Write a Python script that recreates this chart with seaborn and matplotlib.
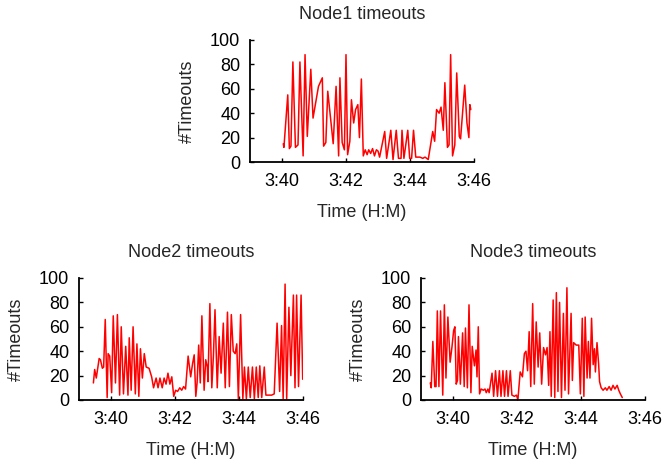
import matplotlib
matplotlib.use("Agg")
import matplotlib.pyplot as plt
import seaborn as sns
import pandas as pd
from matplotlib.ticker import FuncFormatter, FixedLocator

# ---------------- data (time in minutes after 3:00, #timeouts) ----------------
node1_t = [40.04, 40.06, 40.18, 40.23, 40.28, 40.34, 40.42, 40.50, 40.56, 40.66,
           40.72, 40.79, 40.90, 40.97, 41.14, 41.26, 41.30, 41.37, 41.43, 41.60,
           41.69, 41.77, 41.81, 41.88, 41.95, 42.00, 42.05, 42.12, 42.17, 42.24,
           42.30, 42.37, 42.42, 42.48, 42.54, 42.60, 42.66, 42.71, 42.77, 42.83,
           42.89, 42.95, 43.00, 43.05, 43.21, 43.27, 43.40, 43.47, 43.57, 43.64,
           43.72, 43.75, 43.81, 43.93, 43.99, 44.05, 44.11, 44.18, 44.31, 44.40,
           44.47, 44.57, 44.71, 44.77, 44.83, 44.91, 44.97, 45.04, 45.09, 45.17,
           45.22, 45.27, 45.33, 45.40, 45.46, 45.54, 45.58, 45.71, 45.78, 45.84,
           45.87, 45.90]
node1_v = [15, 12, 55, 11, 13, 82, 12, 14, 82, 5,
           88, 21, 76, 36, 62, 69, 13, 16, 58, 15,
           62, 5, 69, 16, 10, 88, 6, 17, 51, 32,
           43, 47, 20, 68, 5, 10, 6, 10, 7, 11,
           5, 10, 9, 4, 25, 3, 26, 2, 26, 3,
           3, 26, 3, 26, 3, 3, 26, 4, 4, 3,
           4, 2, 25, 17, 43, 40, 45, 26, 65, 12,
           14, 88, 5, 14, 73, 21, 19, 63, 32, 20,
           47, 43]

node2_t = [39.45, 39.49, 39.54, 39.63, 39.67, 39.73, 39.77, 39.82, 39.88, 39.91,
           39.96, 40.02, 40.07, 40.14, 40.20, 40.27, 40.32, 40.39, 40.46, 40.53,
           40.57, 40.63, 40.69, 40.76, 40.81, 40.87, 40.92, 40.98, 41.04, 41.10,
           41.19, 41.27, 41.33, 41.41, 41.47, 41.53, 41.60, 41.66, 41.72, 41.78,
           41.84, 41.90, 41.96, 42.02, 42.08, 42.15, 42.21, 42.27, 42.33, 42.41,
           42.49, 42.55, 42.60, 42.65, 42.69, 42.74, 42.79, 42.84, 42.91, 42.96,
           43.01, 43.03, 43.09, 43.15, 43.20, 43.25, 43.32, 43.38, 43.44, 43.51,
           43.57, 43.64, 43.70, 43.76, 43.82, 43.88, 43.93, 43.98, 44.05, 44.12,
           44.17, 44.23, 44.29, 44.35, 44.42, 44.48, 44.54, 44.60, 44.65, 44.71,
           44.79, 44.84, 44.94, 45.02, 45.10, 45.19, 45.27, 45.33, 45.38, 45.44,
           45.49, 45.56, 45.62, 45.70, 45.75, 45.80, 45.86, 45.94, 45.99]
node2_v = [14, 25, 18, 34, 33, 26, 27, 66, 2, 38,
           36, 6, 69, 14, 70, 4, 60, 5, 44, 4,
           51, 8, 60, 5, 46, 3, 42, 18, 38, 27,
           26, 19, 10, 18, 10, 18, 10, 18, 13, 22,
           13, 19, 3, 8, 7, 10, 8, 11, 9, 36,
           19, 30, 37, 3, 14, 45, 14, 69, 8, 33,
           27, 15, 79, 10, 36, 74, 10, 52, 22, 63,
           10, 72, 11, 70, 40, 38, 46, 1, 70, 1,
           27, 1, 27, 2, 27, 1, 27, 2, 28, 2,
           27, 4, 4, 4, 5, 63, 7, 61, 1, 95,
           1, 76, 20, 86, 10, 86, 11, 86, 17]

node3_t = [39.29, 39.32, 39.37, 39.43, 39.47, 39.51, 39.56, 39.61, 39.68, 39.73,
           39.78, 39.84, 39.91, 39.97, 40.02, 40.06, 40.10, 40.14, 40.17, 40.23,
           40.30, 40.35, 40.39, 40.45, 40.50, 40.56, 40.60, 40.67, 40.72, 40.75,
           40.79, 40.83, 40.88, 40.95, 41.00, 41.04, 41.09, 41.13, 41.22, 41.27,
           41.33, 41.39, 41.45, 41.50, 41.56, 41.61, 41.67, 41.72, 41.79, 41.84,
           41.92, 41.98, 42.03, 42.10, 42.17, 42.23, 42.28, 42.33, 42.38, 42.43,
           42.49, 42.54, 42.60, 42.66, 42.71, 42.77, 42.83, 42.89, 42.94, 42.99,
           43.03, 43.07, 43.13, 43.18, 43.23, 43.28, 43.33, 43.39, 43.45, 43.50,
           43.56, 43.61, 43.69, 43.73, 43.77, 43.85, 43.93, 43.98, 44.04, 44.09,
           44.13, 44.19, 44.23, 44.28, 44.33, 44.38, 44.42, 44.45, 44.50, 44.55,
           44.58, 44.63, 44.69, 44.76, 44.81, 44.88, 44.94, 45.00, 45.06, 45.13,
           45.18, 45.23, 45.29]
node3_v = [14, 10, 48, 11, 11, 73, 11, 73, 4, 78,
           18, 68, 31, 44, 57, 60, 13, 16, 52, 13,
           55, 11, 59, 10, 78, 6, 44, 28, 41, 19,
           60, 5, 9, 8, 9, 6, 9, 6, 22, 3,
           24, 3, 24, 3, 24, 3, 24, 3, 24, 4,
           3, 4, 1, 23, 19, 38, 40, 24, 56, 11,
           79, 13, 64, 27, 55, 13, 43, 37, 43, 12,
           56, 3, 82, 2, 88, 7, 80, 2, 71, 8,
           92, 5, 71, 16, 47, 45, 45, 5, 67, 3,
           68, 18, 48, 18, 67, 29, 42, 23, 47, 30,
           15, 10, 8, 10, 8, 11, 8, 12, 9, 12,
           8, 5, 2]

titles = ["Node1 timeouts", "Node2 timeouts", "Node3 timeouts"]
x_ticks = [40, 42, 44, 46]
y_ticks = [0, 20, 40, 60, 80, 100]
x_label = "Time (H:M)"
y_label = "#Timeouts"

# ---------------- style ----------------
sns.set_style("ticks")
plt.rcParams['font.family'] = ['Liberation Sans', 'DejaVu Sans']

W, H = 663, 459
fig = plt.figure(figsize=(W / 100, H / 100), dpi=100)

def rect(left, top, right, bottom):
    return [left / W, 1 - bottom / H, (right - left) / W, (bottom - top) / H]

axes = [
    fig.add_axes(rect(250, 40, 474, 162)),
    fig.add_axes(rect(79, 278, 303, 400)),
    fig.add_axes(rect(421, 278, 645, 400)),
]
series = [(node1_t, node1_v), (node2_t, node2_v), (node3_t, node3_v)]

fmt = FuncFormatter(lambda m, pos: "3:%02d" % int(round(m)))

for ax, (t, v), title in zip(axes, series, titles):
    df = pd.DataFrame({"t": t, "v": v})
    sns.lineplot(data=df, x="t", y="v", ax=ax, color="#ff0000", linewidth=1.1,
                 estimator=None, sort=False)
    ax.set_xlim(39, 46)
    ax.set_ylim(0, 100)
    ax.xaxis.set_major_locator(FixedLocator(x_ticks))
    ax.xaxis.set_major_formatter(fmt)
    ax.set_yticks(y_ticks)
    ax.tick_params(axis="both", direction="in", length=3, width=1, labelsize=13,
                   color="black", labelcolor="black")
    ax.tick_params(axis="x", pad=8)
    ax.tick_params(axis="y", pad=7)
    sns.despine(ax=ax)
    for s in ("left", "bottom"):
        ax.spines[s].set_linewidth(1.3)
        ax.spines[s].set_color("black")
    ax.set_title(title, fontsize=13, pad=15)
    ax.set_xlabel(x_label, fontsize=13, labelpad=10)
    ax.set_ylabel(y_label, fontsize=13, labelpad=10)

fig.savefig("out.png", dpi=100)
